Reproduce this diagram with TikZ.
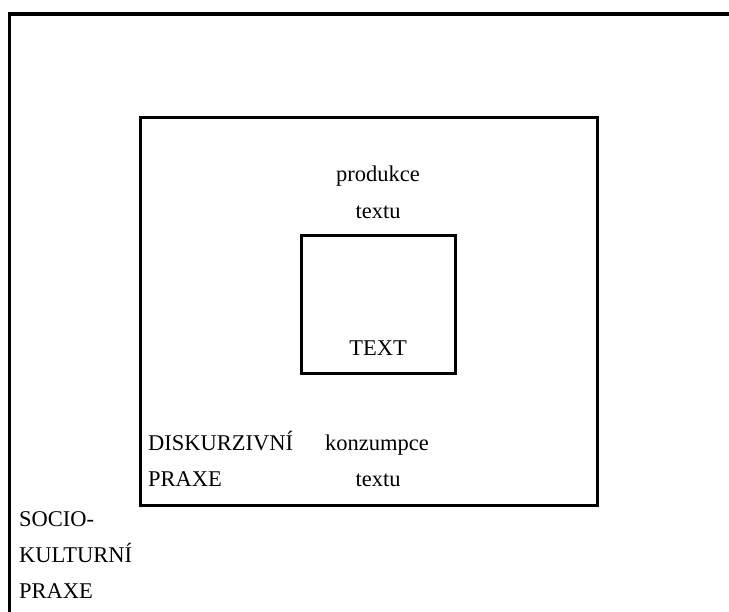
\documentclass[tikz,border=0pt]{standalone}
\usepackage{fontspec}
\setmainfont{Liberation Serif}
\begin{document}
\begin{tikzpicture}[x=1pt,y=-1pt,
  frame/.style={draw,line width=3.2pt,line cap=butt},
  box/.style={draw,line width=3pt,inner sep=0pt},
  lbl/.style={font=\fontsize{22.5}{27}\selectfont,inner sep=0pt}]
\useasboundingbox (0,0) rectangle (729,612);
\coordinate (sbottom) at (9.5,612);
\coordinate (scorner) at (9.5,14);
\coordinate (sright) at (729,14);
\draw[frame] (sbottom) -- (scorner) -- (sright);
\node[box,minimum width=457pt,minimum height=387pt] (diskurz) at (368.5,311.5) {};
\node[box,minimum width=154pt,minimum height=138pt] (text) at (378,305) {};
\node[lbl,anchor=base] (prod1) at (378,182) {produkce};
\node[lbl,anchor=base] (prod2) at (378,219) {textu};
\node[lbl,anchor=base] (textlbl) at (378,356) {TEXT};
\node[lbl,anchor=base west] (disk1) at (148,450) {DISKURZIVNÍ};
\node[lbl,anchor=base west] (disk2) at (148,486) {PRAXE};
\node[lbl,anchor=base] (kon1) at (377,450) {konzumpce};
\node[lbl,anchor=base] (kon2) at (378,486) {textu};
\node[lbl,anchor=base west] (soc1) at (19,526) {SOCIO-};
\node[lbl,anchor=base west] (soc2) at (19,562) {KULTURNÍ};
\node[lbl,anchor=base west] (soc3) at (19,598) {PRAXE};
\end{tikzpicture}
\end{document}
